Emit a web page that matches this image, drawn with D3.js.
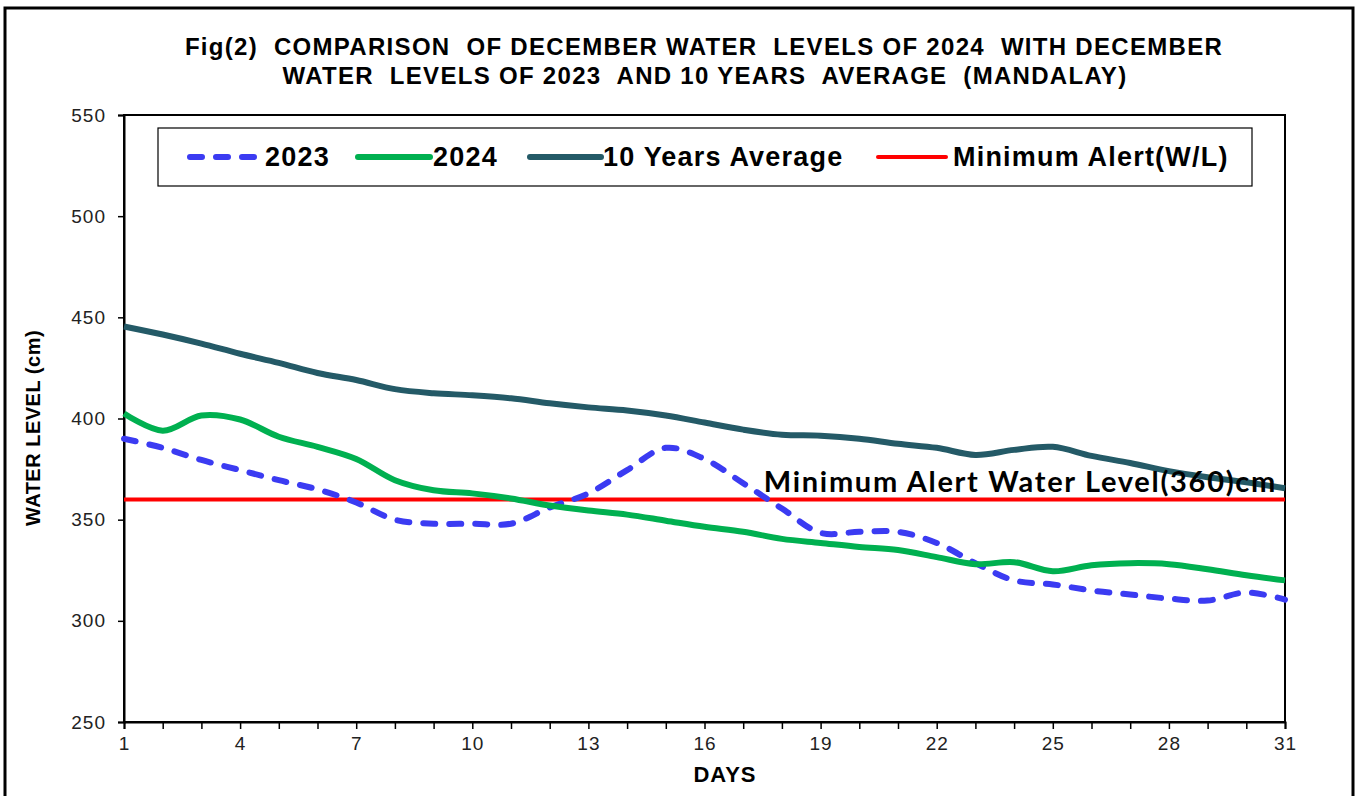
<!DOCTYPE html>
<html>
<head>
<meta charset="utf-8">
<script src="https://cdn.jsdelivr.net/npm/d3@7"></script>
<style>
  body { margin: 0; background: #fff; }
  svg { display: block; font-family: "Liberation Sans", Arial, sans-serif; }
</style>
</head>
<body>
<div id="app"></div>
<script>
const days = d3.range(1, 32);
const wl2023 = [390, 385.5, 379.5, 374.5, 369.5, 365, 358.5, 350, 348, 348,
  348, 356, 363, 374.5, 385.5, 380, 368, 355.5, 343.5, 344, 344, 338.5, 328.5,
  320, 318, 315, 313, 311, 310, 314, 310.5];
const wl2024 = [402.5, 394, 401.5, 399.5, 391, 386, 380, 369.5, 364.5, 363,
  360.5, 357, 354.5, 352.5, 349.5, 346.5, 344, 340.5, 338.5, 336.5, 335, 331.5,
  328, 329, 324.5, 327.5, 328.5, 328, 325.5, 322.5, 320];
const avg10 = [445.5, 441.5, 437, 432, 427.5, 422.5, 419, 414.5, 412.5, 411.5,
  410, 407.5, 405.5, 404, 401.5, 398, 394.5, 392, 391.5, 390, 387.5, 385.5,
  382, 384.5, 386, 381.5, 378, 374, 371, 368.5, 365.5];
const alertLevel = 360;
const yTicks = [250, 300, 350, 400, 450, 500, 550];
const xLabels = [1, 4, 7, 10, 13, 16, 19, 22, 25, 28, 31];

const seriesList = [
  { name: "2023", values: wl2023, color: "#3b3bf2", dash: "12,14" },
  { name: "2024", values: wl2024, color: "#00b050", dash: null },
  { name: "10 Years Average", values: avg10, color: "#245a67", dash: null }
];

const W = 1363, H = 796;
const margin = { left: 124, right: 78, top: 115, bottom: 74 };

const svg = d3.select("#app").append("svg").attr("width", W).attr("height", H);

// outer frame
svg.append("rect").attr("x", 5).attr("y", 8).attr("width", 1348).attr("height", 800)
  .attr("fill", "none").attr("stroke", "#000").attr("stroke-width", 3);

const x = d3.scaleLinear().domain([1, 31]).range([margin.left, W - margin.right]);
const y = d3.scaleLinear().domain([250, 550]).range([H - margin.bottom, margin.top]);

// plot box
svg.append("rect")
  .attr("x", x(1)).attr("y", y(550))
  .attr("width", x(31) - x(1)).attr("height", y(250) - y(550))
  .attr("fill", "none").attr("stroke", "#000").attr("stroke-width", 2);

// title
const title = svg.append("text").attr("text-anchor", "middle")
  .attr("font-weight", "bold").attr("font-size", 24).attr("fill", "#000")
  .attr("letter-spacing", 1.3)
  .style("white-space", "pre");
title.append("tspan").attr("x", 704).attr("y", 55)
  .text("Fig(2)  COMPARISON  OF DECEMBER WATER  LEVELS OF 2024  WITH DECEMBER");
title.append("tspan").attr("x", 705).attr("y", 84)
  .text("WATER  LEVELS OF 2023  AND 10 YEARS  AVERAGE  (MANDALAY)");

// axes
const yAxis = d3.axisLeft(y).tickValues(yTicks).tickSize(6).tickPadding(12);
const gy = svg.append("g").attr("transform", `translate(${x(1)},0)`).call(yAxis);
const xAxis = d3.axisBottom(x).tickValues(days).tickSize(7).tickPadding(8)
  .tickFormat(d => xLabels.includes(d) ? d : "");
const gx = svg.append("g").attr("transform", `translate(0,${y(250)})`).call(xAxis);
[gx, gy].forEach(g => {
  g.select(".domain").attr("stroke", "#000").attr("stroke-width", 2);
  g.selectAll(".tick line").attr("stroke", "#000").attr("stroke-width", 1.5);
  g.selectAll(".tick text").attr("fill", "#222").attr("font-size", 19)
    .attr("letter-spacing", 1)
    .attr("font-family", "'Liberation Sans', Arial, sans-serif");
});

svg.append("text").attr("x", 725).attr("y", 782).attr("text-anchor", "middle")
  .attr("font-weight", "bold").attr("font-size", 22).attr("letter-spacing", 1)
  .text("DAYS");
svg.append("text").attr("transform", `translate(40,428) rotate(-90)`)
  .attr("text-anchor", "middle").attr("font-weight", "bold").attr("font-size", 20)
  .attr("letter-spacing", 0.5)
  .text("WATER LEVEL (cm)");

// alert line
svg.append("line").attr("x1", x(1)).attr("x2", x(31))
  .attr("y1", y(alertLevel)).attr("y2", y(alertLevel))
  .attr("stroke", "#ff0000").attr("stroke-width", 4);

// series
const line = d3.line().x((d, i) => x(days[i])).y(d => y(d)).curve(d3.curveCatmullRom.alpha(0.5));
seriesList.forEach(s => {
  svg.append("path").datum(s.values)
    .attr("d", line).attr("fill", "none")
    .attr("stroke", s.color).attr("stroke-width", 6)
    .attr("stroke-linecap", s.dash ? "round" : "butt")
    .attr("stroke-dasharray", s.dash);
});

svg.append("text").attr("x", 1277).attr("y", 492).attr("text-anchor", "end")
  .attr("font-family", "Lato, 'Open Sans', sans-serif").attr("font-weight", "bold")
  .attr("font-size", 29).attr("letter-spacing", 1.7).attr("fill", "#000")
  .text("Minimum Alert Water Level(" + alertLevel + ")cm");

// legend
const legend = svg.append("g");
legend.append("rect").attr("x", 158).attr("y", 128).attr("width", 1094).attr("height", 58)
  .attr("fill", "#fff").attr("stroke", "#000").attr("stroke-width", 1.2);
const legendItems = [
  { name: "2023", color: "#3b3bf2", dash: "12,14", x0: 190, x1: 254, tx: 265 },
  { name: "2024", color: "#00b050", dash: null, x0: 358, x1: 430, tx: 433 },
  { name: "10 Years Average", color: "#245a67", dash: null, x0: 530, x1: 601, tx: 603 },
  { name: "Minimum Alert(W/L)", color: "#ff0000", dash: null, x0: 878, x1: 946, tx: 953 }
];
legendItems.forEach(it => {
  legend.append("line").attr("x1", it.x0).attr("x2", it.x1).attr("y1", 157).attr("y2", 157)
    .attr("stroke", it.color).attr("stroke-width", it.color === "#ff0000" ? 4 : 6)
    .attr("stroke-linecap", "round")
    .attr("stroke-dasharray", it.dash);
  legend.append("text").attr("x", it.tx).attr("y", 166)
    .attr("font-weight", "bold").attr("font-size", 27).attr("letter-spacing", 1.2)
    .text(it.name);
});
</script>
</body>
</html>
